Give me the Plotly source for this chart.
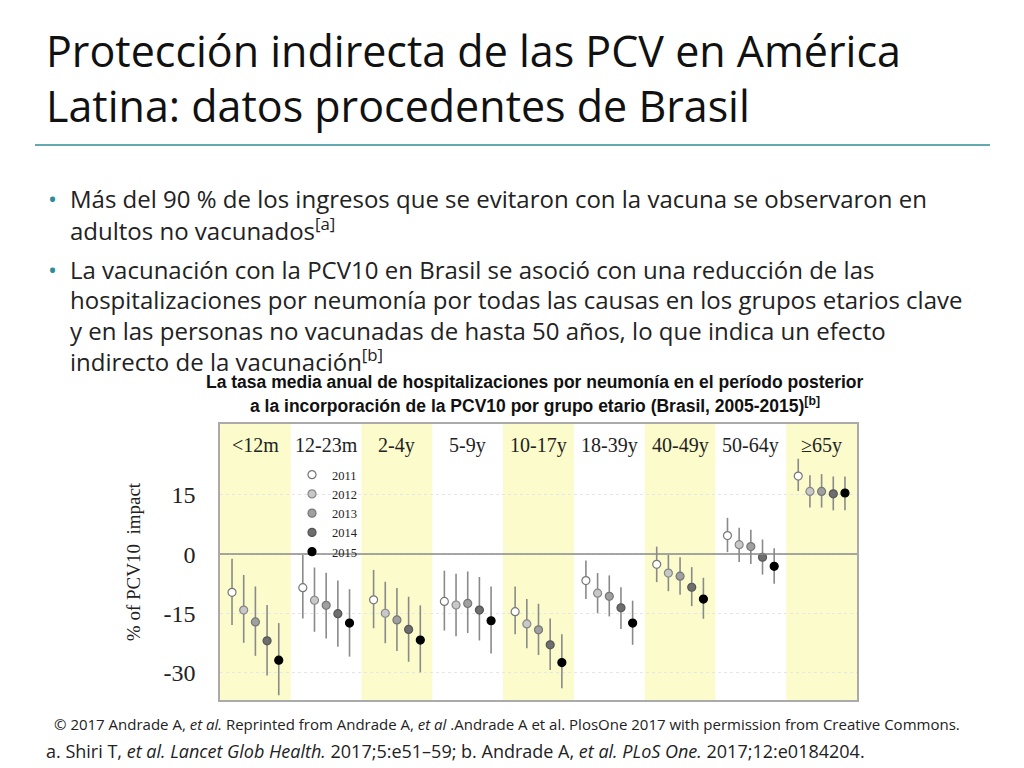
import plotly.graph_objects as go

groups = ["<12m", "12-23m", "2-4y", "5-9y", "10-17y", "18-39y", "40-49y", "50-64y", "\u226565y"]
years = ["2011", "2012", "2013", "2014", "2015"]

# impact per year, one list per year across the age groups
impact = {
    "2011": [-9.7, -8.5, -11.6, -12.0, -14.6, -6.7, -2.6, 4.7, 19.8],
    "2012": [-14.2, -11.7, -15.0, -12.9, -17.7, -9.9, -4.8, 2.4, 15.9],
    "2013": [-17.2, -13.0, -16.7, -12.5, -19.2, -10.7, -5.6, 1.9, 15.9],
    "2014": [-22.0, -15.1, -19.1, -14.2, -23.0, -13.6, -8.4, -0.8, 15.3],
    "2015": [-26.9, -17.5, -21.8, -16.9, -27.5, -17.5, -11.4, -3.1, 15.5],
}
upper = {
    "2011": [-1.2, -0.2, -4.0, -4.2, -8.2, -1.6, 1.9, 9.2, 24.2],
    "2012": [-5.3, -3.4, -7.0, -5.0, -11.4, -4.8, -0.2, 6.7, 20.0],
    "2013": [-8.2, -4.7, -8.6, -4.4, -12.6, -5.4, -0.8, 6.2, 20.3],
    "2014": [-12.9, -6.7, -10.8, -5.8, -16.3, -8.4, -3.3, 3.7, 19.7],
    "2015": [-17.5, -8.9, -13.0, -8.2, -20.3, -11.8, -6.0, 1.5, 19.7],
}
lower = {
    "2011": [-18.0, -16.3, -18.8, -19.4, -20.3, -11.4, -7.1, 0.5, 16.0],
    "2012": [-22.5, -19.7, -22.6, -20.8, -23.9, -15.0, -9.4, -2.0, 11.8],
    "2013": [-25.8, -21.4, -24.6, -20.0, -25.6, -15.8, -10.3, -2.5, 11.8],
    "2014": [-30.8, -23.5, -27.3, -21.9, -29.4, -19.0, -13.2, -5.2, 11.1],
    "2015": [-35.8, -26.0, -30.0, -25.2, -34.0, -23.0, -16.4, -7.5, 11.1],
}
y_ticks = [15, 0, -15, -30]

fills = ["white", "#c8c8c8", "#a0a0a0", "#6e6e6e", "black"]
lines = ["#777", "#888", "#777", "#555", "black"]

fig = go.Figure()

for gi in range(len(groups)):
    if gi % 2 == 0:
        fig.add_shape(type="rect", xref="x", yref="paper", x0=gi - 0.5, x1=gi + 0.5, y0=0, y1=1,
                      fillcolor="#fbfbcb", line_width=0, layer="below")
    fig.add_annotation(x=gi, y=0.97, xref="x", yref="paper", text=groups[gi], showarrow=False,
                       yanchor="top", font=dict(family="Liberation Serif", size=20, color="#222"))

for j, yr in enumerate(years):
    xs = [gi + (j - 2) * 0.165 for gi in range(len(groups))]
    fig.add_trace(go.Scatter(
        x=xs, y=impact[yr], mode="markers", name=yr,
        marker=dict(size=8, color=fills[j], line=dict(color=lines[j], width=1.2)),
        error_y=dict(type="data", symmetric=False,
                     array=[u - v for u, v in zip(upper[yr], impact[yr])],
                     arrayminus=[v - l for v, l in zip(impact[yr], lower[yr])],
                     color="#8a8a8a", thickness=1.6, width=0),
    ))

fig.add_hline(y=0, line=dict(color="#8a8a8a", width=1.5))


def px(x):
    return (x - 220) / 637


def py(y):
    return (700 - y) / 276


def note(x, y, t, size, anchor="left", family="Open Sans", color="#222"):
    fig.add_annotation(x=px(x), y=py(y), xref="paper", yref="paper", text=t, showarrow=False,
                       xanchor=anchor, yanchor="middle", font=dict(family=family, size=size, color=color))


note(44, 50, "Protección indirecta de las PCV en América", 43, color="#111")
note(44, 105, "Latina: datos procedentes de Brasil", 43, color="#111")

fig.add_shape(type="line", xref="paper", yref="paper", x0=px(35), x1=px(990), y0=py(145), y1=py(145),
              line=dict(color="#2e8c99", width=1.5))

bullets = [
    (199, "Más del 90 % de los ingresos que se evitaron con la vacuna se observaron en"),
    (229, "adultos no vacunados<sup>[a]</sup>"),
    (269, "La vacunación con la PCV10 en Brasil se asoció con una reducción de las"),
    (299, "hospitalizaciones por neumonía por todas las causas en los grupos etarios clave"),
    (330, "y en las personas no vacunadas de hasta 50 años, lo que indica un efecto"),
    (360, "indirecto de la vacunación<sup>[b]</sup>"),
]
for y, t in bullets:
    note(68, y, t, 24)
for y in (199, 269):
    note(46, y, "\u2022", 24, color="#2e8c99")

note(535, 382, "<b>La tasa media anual de hospitalizaciones por neumonía en el período posterior</b>",
     17.5, anchor="center", family="Liberation Sans", color="#111")
note(535, 405, "<b>a la incorporación de la PCV10 por grupo etario (Brasil, 2005-2015)<sup>[b]</sup></b>",
     17.5, anchor="center", family="Liberation Sans", color="#111")

note(52, 724, "© 2017 Andrade A, <i>et al.</i> Reprinted from Andrade A, <i>et al</i> .Andrade A et al. "
     "PlosOne 2017 with permission from Creative Commons.", 15)
note(44, 751, "a. Shiri T, <i>et al. Lancet Glob Health.</i> 2017;5:e51–59; b. Andrade A, <i>et al. PLoS One.</i> "
     "2017;12:e0184204.", 18)

fig.update_layout(
    width=1024, height=768,
    margin=dict(l=212, r=175, t=416, b=76),
    plot_bgcolor="white", paper_bgcolor="white",
    showlegend=True,
    legend=dict(x=px(292), y=py(460), xanchor="left", yanchor="top", bgcolor="rgba(0,0,0,0)",
                font=dict(family="Liberation Serif", size=12.5, color="#222"), tracegroupgap=0),
    xaxis=dict(range=[-0.5, len(groups) - 0.5], showticklabels=False, showgrid=False, zeroline=False,
               showline=True, mirror=True, linecolor="#aaa", linewidth=1.5),
    yaxis=dict(range=[-37, 33], tickvals=y_ticks, ticktext=[str(v) for v in y_ticks],
               showgrid=True, gridcolor="#e6e6e6", griddash="dot", zeroline=False,
               showline=True, mirror=True, linecolor="#aaa", linewidth=1.5,
               tickfont=dict(family="Liberation Serif", size=24, color="#222"), ticks="",
               ticklabelstandoff=18,
               title=dict(text="% of PCV10  impact", standoff=18,
                          font=dict(family="Liberation Serif", size=19, color="#222"))),
)

fig.write_html("out.html")
